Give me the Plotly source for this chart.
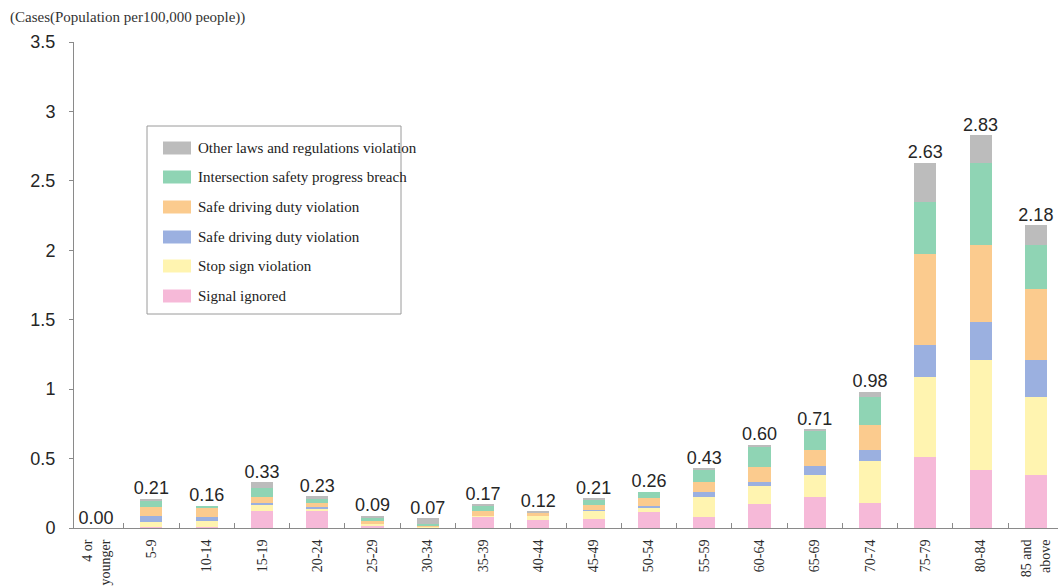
import plotly.graph_objects as go

# Age groups (x axis)
age_groups = ["4 or<br>younger", "5-9", "10-14", "15-19", "20-24", "25-29", "30-34",
              "35-39", "40-44", "45-49", "50-54", "55-59", "60-64", "65-69",
              "70-74", "75-79", "80-84", "85 and<br>above"]

# Cases per 100,000 people, by violation type (stacked bottom to top)
signal_ignored = [0, 0.01, 0.01, 0.12, 0.12, 0.02, 0.00, 0.08, 0.06, 0.065, 0.115,
                  0.08, 0.17, 0.22, 0.18, 0.51, 0.42, 0.38]
stop_sign = [0, 0.03, 0.04, 0.05, 0.02, 0.01, 0.01, 0.01, 0.03, 0.06, 0.035,
             0.14, 0.13, 0.16, 0.30, 0.575, 0.79, 0.56]
safe_driving_blue = [0, 0.05, 0.03, 0.01, 0.01, 0.00, 0.00, 0.00, 0.00, 0.005, 0.005,
                     0.04, 0.03, 0.07, 0.08, 0.23, 0.27, 0.27]
safe_driving_orange = [0, 0.06, 0.07, 0.04, 0.03, 0.02, 0.01, 0.035, 0.02, 0.035, 0.06,
                       0.07, 0.11, 0.11, 0.18, 0.655, 0.56, 0.51]
intersection = [0, 0.05, 0.01, 0.07, 0.03, 0.02, 0.01, 0.035, 0.005, 0.04, 0.045,
                0.09, 0.15, 0.14, 0.20, 0.38, 0.59, 0.32]
other_laws = [0, 0.01, 0.00, 0.04, 0.02, 0.02, 0.04, 0.01, 0.005, 0.005, 0.00,
              0.01, 0.01, 0.01, 0.04, 0.28, 0.20, 0.14]

series_names = ["Signal ignored", "Stop sign violation", "Safe driving duty violation",
                "Safe driving duty violation", "Intersection safety progress breach",
                "Other laws and regulations violation"]
series_values = [signal_ignored, stop_sign, safe_driving_blue, safe_driving_orange,
                 intersection, other_laws]
series_colors = ["#f6b9d8", "#fff4b0", "#9bb0e0", "#fbcb8e", "#8fd4b4", "#bcbcbc"]

y_ticks = [0, 0.5, 1, 1.5, 2, 2.5, 3, 3.5]
y_tick_text = ["0", "0.5", "1", "1.5", "2", "2.5", "3", "3.5"]

totals = [round(sum(v), 2) for v in zip(*series_values)]

W, H = 1058, 587
ML, MR, MT, MB = 74, 0, 42, 59
PW, PH = W - ML - MR, H - MT - MB
SERIF = "Liberation Serif, Times New Roman"
SANS = "Liberation Sans, Arial"


def px(x):
    return (x - ML) / PW


def py(y):
    return (H - MB - y) / PH


fig = go.Figure()
for name, vals, col in zip(series_names, series_values, series_colors):
    fig.add_trace(go.Bar(x=age_groups, y=vals, name=name, width=0.4,
                         marker=dict(color=col, line=dict(width=0)),
                         showlegend=False))

fig.add_trace(go.Scatter(x=age_groups, y=totals, mode="text",
                         text=[f"{t:.2f}" for t in totals],
                         textposition="top center",
                         textfont=dict(family=SANS, size=18, color="#262626"),
                         cliponaxis=False, showlegend=False, hoverinfo="skip"))

shapes = []
annotations = []

# Legend box, drawn in paper coordinates
shapes.append(dict(type="rect", xref="paper", yref="paper",
                   x0=px(147), x1=px(401), y0=py(314), y1=py(126),
                   line=dict(color="#9a9a9a", width=1), fillcolor="white", layer="above"))
legend_rows = [148, 177, 207, 237, 266, 296]
for row_y, name, col in zip(legend_rows, series_names[::-1], series_colors[::-1]):
    shapes.append(dict(type="rect", xref="paper", yref="paper",
                       x0=px(163), x1=px(191), y0=py(row_y + 6.5), y1=py(row_y - 6.5),
                       line=dict(width=0), fillcolor=col, layer="above"))
    annotations.append(dict(xref="paper", yref="paper", x=px(196), y=py(row_y),
                            xanchor="left", yanchor="middle", showarrow=False,
                            text=name,
                            font=dict(family=SERIF, size=15, color="#222222")))

# Unit caption above the y axis
annotations.append(dict(xref="paper", yref="paper", x=px(8), y=py(17),
                        xanchor="left", yanchor="middle", showarrow=False,
                        text="(Cases(Population per100,000 people))",
                        font=dict(family=SERIF, size=15, color="#333333")))

fig.update_layout(
    barmode="stack",
    width=W, height=H,
    margin=dict(l=ML, r=MR, t=MT, b=MB, pad=0),
    paper_bgcolor="white", plot_bgcolor="white",
    shapes=shapes, annotations=annotations,
    showlegend=False,
    xaxis=dict(type="category", range=[-0.4, 17.4], showline=True, linecolor="#8a8a8a",
               linewidth=1, ticks="inside", ticklen=5, tickcolor="#8a8a8a",
               tickson="boundaries", tickangle=-90, showgrid=False, zeroline=False,
               tickfont=dict(family=SERIF, size=14, color="#2a2a2a"),
               ticklabelstandoff=5),
    yaxis=dict(range=[0, 3.5], tickvals=y_ticks, ticktext=y_tick_text, showline=True,
               linecolor="#8a8a8a", linewidth=1, ticks="outside", ticklen=4,
               tickcolor="#8a8a8a", showgrid=False, zeroline=False,
               tickfont=dict(family=SANS, size=18, color="#262626"),
               ticklabelstandoff=10),
)

fig.write_html("out.html")
